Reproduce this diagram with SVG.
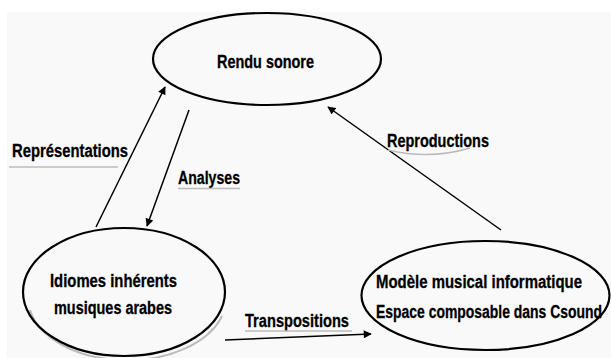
<svg xmlns="http://www.w3.org/2000/svg" width="611" height="358" viewBox="0 0 611 358">
<defs>
<marker id="ah" viewBox="0 0 10 10" refX="9" refY="5" markerWidth="9" markerHeight="8" markerUnits="userSpaceOnUse" orient="auto">
<path d="M0,0 L10,5 L0,10 z" fill="#000"/>
</marker>
</defs>
<style>
.node ellipse{fill:none;stroke:#000;stroke-width:2.2}
.shadow{fill:none;stroke:#bbb;stroke-width:2}
text{font-family:"Liberation Sans",Arial,sans-serif;font-weight:bold;font-size:18px;fill:#000;stroke:#000;stroke-width:0.3}
.conn line{stroke:#000;stroke-width:1.5}
.ul{stroke:#bbb;stroke-width:1.5;fill:none}
</style>
<rect x="0" y="0" width="611" height="358" fill="#fff"/>
<rect x="7" y="12" width="604" height="346" fill="#f9f9f9"/>

<g id="node-rendu" class="node">
<ellipse cx="267" cy="59" rx="114" ry="46"/>
<text x="217" y="68" textLength="97" lengthAdjust="spacingAndGlyphs">Rendu sonore</text>
</g>

<g id="node-idiomes" class="node">
<path class="shadow" d="M30,310 A99,62 0 0 0 222,316"/>
<ellipse cx="124" cy="292" rx="101" ry="64"/>
<text x="50" y="287" textLength="127" lengthAdjust="spacingAndGlyphs">Idiomes inhérents</text>
<text x="54" y="314" textLength="118" lengthAdjust="spacingAndGlyphs">musiques arabes</text>
</g>

<g id="node-modele" class="node">
<ellipse cx="485.5" cy="295.5" rx="124" ry="54.5"/>
<text x="376" y="288" textLength="206" lengthAdjust="spacingAndGlyphs">Modèle musical informatique</text>
<text x="376" y="318" textLength="226" lengthAdjust="spacingAndGlyphs">Espace composable dans Csound</text>
</g>

<g id="connectors" class="conn">
<line x1="96" y1="227" x2="165" y2="87" marker-end="url(#ah)"/>
<line x1="189" y1="110" x2="147" y2="226" marker-end="url(#ah)"/>
<line x1="501" y1="230" x2="328" y2="107" marker-end="url(#ah)"/>
<line x1="225" y1="340" x2="371" y2="334" marker-end="url(#ah)"/>
</g>

<g id="labels">
<text x="12" y="157" textLength="116" lengthAdjust="spacingAndGlyphs">Représentations</text>
<line class="ul" x1="9" y1="167" x2="118" y2="167"/>
<text x="178" y="184" textLength="62" lengthAdjust="spacingAndGlyphs">Analyses</text>
<line class="ul" x1="178" y1="188.5" x2="240" y2="188.5"/>
<text x="387" y="147" textLength="102" lengthAdjust="spacingAndGlyphs">Reproductions</text>
<path class="ul" d="M388,150 Q430,160 470,148"/>
<text x="245" y="327" textLength="104" lengthAdjust="spacingAndGlyphs">Transpositions</text>
<line class="ul" x1="245" y1="331" x2="352" y2="331"/>
</g>
</svg>
